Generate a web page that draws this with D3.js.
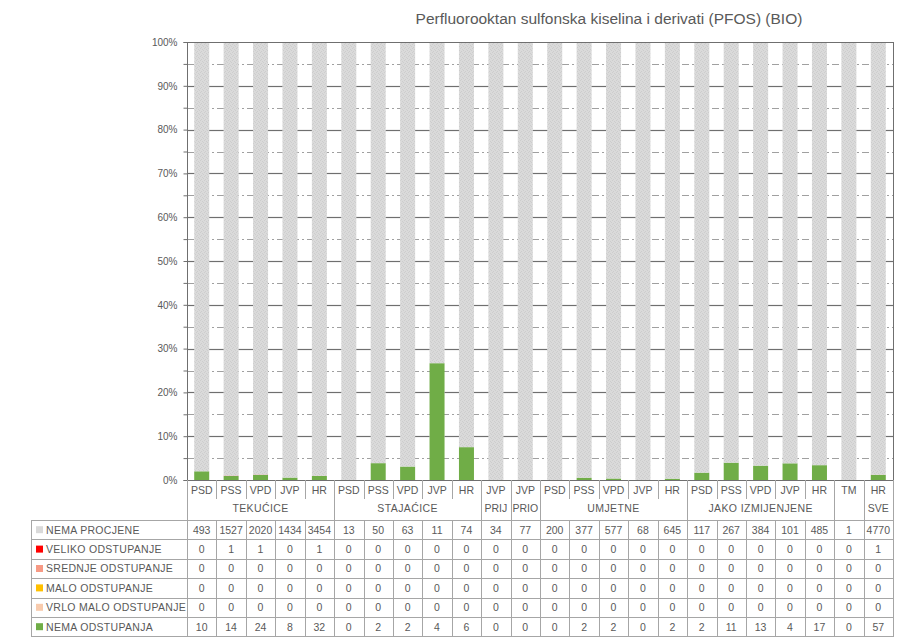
<!DOCTYPE html>
<html>
<head>
<meta charset="utf-8">
<script src="https://cdn.jsdelivr.net/npm/d3@7/dist/d3.min.js"></script>
<style>
  body { margin: 0; background: #fff; }
  svg text { font-family: "Liberation Sans", Arial, sans-serif; fill: #595959; }
</style>
</head>
<body>
<svg id="chart" width="921" height="640"></svg>
<script>
// categories (first label line) and their groups (second label line)
const categories = ["PSD","PSS","VPD","JVP","HR","PSD","PSS","VPD","JVP","HR","JVP","JVP",
  "PSD","PSS","VPD","JVP","HR","PSD","PSS","VPD","JVP","HR","TM","HR"];
const groups = [
  { name: "TEKUĆICE", n: 5 }, { name: "STAJAĆICE", n: 5 },
  { name: "PRIJ", n: 1 }, { name: "PRIO", n: 1 },
  { name: "UMJETNE", n: 5 }, { name: "JAKO IZMIJENJENE", n: 5 },
  { name: "", n: 1 }, { name: "SVE", n: 1 }
];

// series values (counts)
const nemaProcjene   = [493,1527,2020,1434,3454,13,50,63,11,74,34,77,200,377,577,68,645,117,267,384,101,485,1,4770];
const velikoOdst     = [0,1,1,0,1,0,0,0,0,0,0,0,0,0,0,0,0,0,0,0,0,0,0,1];
const srednjeOdst    = [0,0,0,0,0,0,0,0,0,0,0,0,0,0,0,0,0,0,0,0,0,0,0,0];
const maloOdst       = [0,0,0,0,0,0,0,0,0,0,0,0,0,0,0,0,0,0,0,0,0,0,0,0];
const vrloMaloOdst   = [0,0,0,0,0,0,0,0,0,0,0,0,0,0,0,0,0,0,0,0,0,0,0,0];
const nemaOdstupanja = [10,14,24,8,32,0,2,2,4,6,0,0,0,2,2,0,2,2,11,13,4,17,0,57];

// table rows, in legend order (top to bottom)
const series = [
  { key: "np", label: "NEMA PROCJENE",        color: "#d9d9d9", values: nemaProcjene },
  { key: "vo", label: "VELIKO ODSTUPANJE",    color: "#ff0000", values: velikoOdst },
  { key: "so", label: "SREDNJE ODSTUPANJE",   color: "#f79a85", values: srednjeOdst },
  { key: "mo", label: "MALO ODSTUPANJE",      color: "#ffc000", values: maloOdst },
  { key: "vm", label: "VRLO MALO ODSTUPANJE", color: "#f8cbad", values: vrloMaloOdst },
  { key: "no", label: "NEMA ODSTUPANJA",      color: "#70ad47", values: nemaOdstupanja }
];

const title = "Perfluorooktan sulfonska kiselina i derivati (PFOS) (BIO)";
const yTicks = [0, 0.1, 0.2, 0.3, 0.4, 0.5, 0.6, 0.7, 0.8, 0.9, 1];
const yMinor = [0.05, 0.15, 0.25, 0.35, 0.45, 0.55, 0.65, 0.75, 0.85, 0.95];

const svg = d3.select("#chart");
const pLeft = 187, pRight = 893, pTop = 42, pBottom = 480;
const tableLeft = 31, rowH = 19.4, rowTop = 520;
const gridCol = "#6f6f6f", lineCol = "#a6a6a6";

// pattern for the grey "no assessment" bars
const defs = svg.append("defs");
const pat = defs.append("pattern").attr("id", "speckle")
  .attr("width", 4).attr("height", 4).attr("patternUnits", "userSpaceOnUse");
pat.append("rect").attr("width", 4).attr("height", 4).attr("fill", "#dadada");
[[0,0],[2,1],[1,3],[3,2]].forEach(([px,py]) =>
  pat.append("rect").attr("x", px).attr("y", py).attr("width", 1).attr("height", 1).attr("fill", "#cdcdcd"));

const x = d3.scaleBand().domain(d3.range(categories.length))
  .range([pLeft, pRight]).paddingInner(0.49).paddingOuter(0.245);
const step = x.step();
const bw = x.bandwidth();
const y = d3.scaleLinear().domain([0, 1]).range([pBottom, pTop]);

// data rows as percentages
const rows = categories.map((c, i) => {
  const r = {};
  const total = d3.sum(series, s => s.values[i]);
  series.forEach(s => r[s.key] = total ? s.values[i] / total : 0);
  return r;
});
const stackKeys = ["no", "vm", "mo", "so", "vo", "np"];
const stacked = d3.stack().keys(stackKeys)(rows);
const colorOf = k => series.find(s => s.key === k).color;

// minor grid (dash-dot)
svg.append("g").attr("class", "minor").selectAll("line").data(yMinor).join("line")
  .attr("x1", pLeft).attr("x2", pRight)
  .attr("y1", d => Math.round(y(d)) + 0.5).attr("y2", d => Math.round(y(d)) + 0.5)
  .attr("stroke", "#a0a0a0").attr("stroke-width", 1).attr("stroke-dasharray", "7,3,2,3");

// bars
svg.append("g").attr("class", "bars").selectAll("g").data(stacked).join("g")
  .attr("fill", d => d.key === "np" ? "url(#speckle)" : colorOf(d.key))
  .selectAll("rect").data(d => d).join("rect")
  .attr("x", (d, i) => x(i))
  .attr("width", bw)
  .attr("y", d => y(d[1]))
  .attr("height", d => y(d[0]) - y(d[1]));

// right border
svg.append("rect").attr("x", pRight).attr("width", 1)
  .attr("y", pTop).attr("height", pBottom - pTop).attr("fill", gridCol);

// y axis
const yAxis = d3.axisLeft(y).tickValues(yTicks.concat(yMinor))
  .tickSize(4).offset(0).tickFormat(d => yTicks.includes(d) ? Math.round(d * 100) + "%" : "");
const ya = svg.append("g").attr("transform", `translate(${pLeft + 0.5},0.5)`).call(yAxis);
ya.select(".domain").attr("stroke", gridCol);
ya.selectAll(".tick line").attr("stroke", gridCol);
ya.selectAll(".tick text").attr("x", -10).attr("font-size", 10)
  .style("font-family", "Liberation Sans, Arial, sans-serif").attr("fill", "#595959");

// x axis baseline
svg.append("rect").attr("x", pLeft).attr("width", pRight - pLeft + 1)
  .attr("y", pBottom).attr("height", 1).attr("fill", gridCol);

// title
svg.append("text").attr("x", 609).attr("y", 24).attr("text-anchor", "middle")
  .attr("font-size", 15.5).text(title);

// ---- data table ----
const tbl = svg.append("g").attr("stroke", lineCol).attr("shape-rendering", "crispEdges");

// group boundaries (full height) and category boundaries (label row only)
let start = 0;
const groupStarts = [];
groups.forEach(g => { groupStarts.push(start); start += g.n; });
const groupEdges = new Set(groupStarts.concat([categories.length]));
d3.range(categories.length + 1).forEach(i => {
  const xx = Math.round(pLeft + i * step) + 0.5;
  tbl.append("line").attr("x1", xx).attr("x2", xx)
    .attr("y1", pBottom)
    .attr("y2", groupEdges.has(i) ? rowTop + rowH * series.length : pBottom + 19);
  if (!groupEdges.has(i)) {
    tbl.append("line").attr("x1", xx).attr("x2", xx)
      .attr("y1", rowTop).attr("y2", rowTop + rowH * series.length);
  }
});
// horizontal row lines
d3.range(series.length + 1).forEach(r => {
  const yy = Math.round(rowTop + r * rowH) + 0.5;
  tbl.append("line").attr("x1", tableLeft).attr("x2", pRight + 1).attr("y1", yy).attr("y2", yy);
});
// left edge of row header
tbl.append("line").attr("x1", tableLeft + 0.5).attr("x2", tableLeft + 0.5)
  .attr("y1", rowTop).attr("y2", rowTop + rowH * series.length);

// category labels
svg.append("g").selectAll("text").data(categories).join("text")
  .attr("x", (d, i) => pLeft + (i + 0.5) * step).attr("y", pBottom + 14)
  .attr("text-anchor", "middle").attr("font-size", 10.5).text(d => d);

// group labels
svg.append("g").selectAll("text").data(groups).join("text")
  .attr("x", (d, i) => pLeft + (groupStarts[i] + d.n / 2) * step).attr("y", pBottom + 32)
  .attr("text-anchor", "middle").attr("font-size", 10.5)
  .attr("letter-spacing", d => d.n > 1 ? 0.4 : 0).text(d => d.name);

// row headers with colour keys
const rh = svg.append("g").selectAll("g").data(series).join("g")
  .attr("transform", (d, i) => `translate(0,${rowTop + i * rowH})`);
rh.append("rect").attr("x", 36).attr("y", rowH / 2 - 3.5).attr("width", 7).attr("height", 7)
  .attr("fill", d => d.color);
rh.append("text").attr("x", 46).attr("y", rowH / 2 + 4).attr("font-size", 10.5)
  .attr("letter-spacing", 0.3).text(d => d.label);

// values
rh.selectAll("text.v").data(d => d.values).join("text").attr("class", "v")
  .attr("x", (d, i) => pLeft + (i + 0.5) * step).attr("y", rowH / 2 + 4)
  .attr("text-anchor", "middle").attr("font-size", 10.5).text(d => d);

// major grid, drawn last: segments in the gaps between bars so the bars stay in front
const gaps = d3.range(categories.length + 1).map(i => ({
  x0: i === 0 ? pLeft + 1 : x(i - 1) + bw,
  x1: i === categories.length ? pRight : x(i)
}));
const gridSegs = [];
yTicks.slice(1, -1).forEach(t => gaps.forEach(g => gridSegs.push({ t, x0: g.x0, x1: g.x1 })));
svg.append("g").attr("class", "major").selectAll("line").data(gridSegs).join("line")
  .attr("x1", d => d.x0).attr("x2", d => d.x1)
  .attr("y1", d => Math.round(y(d.t)) + 0.5).attr("y2", d => Math.round(y(d.t)) + 0.5)
  .attr("stroke", gridCol).attr("stroke-width", 1.2);
// top edge at 100% runs over the bar tops
svg.append("line").attr("x1", pLeft).attr("x2", pRight + 1)
  .attr("y1", Math.round(y(1)) + 0.5).attr("y2", Math.round(y(1)) + 0.5)
  .attr("stroke", gridCol).attr("stroke-width", 1.2);
</script>
</body>
</html>
